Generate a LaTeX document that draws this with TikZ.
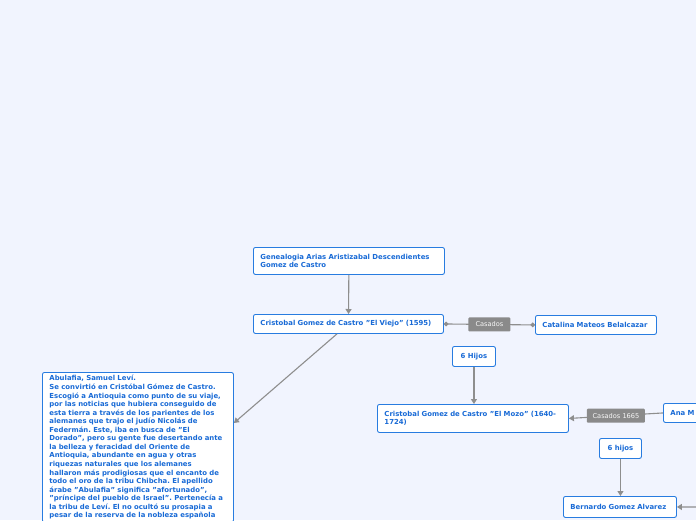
\documentclass[tikz,border=0pt]{standalone}
\usepackage{fontspec}
\setmainfont{DejaVu Sans}
\usetikzlibrary{arrows.meta}
\definecolor{bgblue}{RGB}{241,244,254}
\definecolor{topicblue}{RGB}{40,124,224}
\definecolor{textblue}{RGB}{24,106,214}
\definecolor{linkgray}{RGB}{142,142,142}
\definecolor{labelgray}{RGB}{138,138,138}
\frenchspacing
\hyphenpenalty=10000
\begin{document}
\begin{tikzpicture}[x=1pt,y=-1pt,
    topic/.style={draw=topicblue,fill=white,line width=0.9pt,rounded corners=2pt,
        text=textblue,font=\bfseries\fontsize{6.9}{8.55}\selectfont,
        align=left,anchor=north west,inner xsep=7pt,inner ysep=0pt},
    tag/.style={fill=labelgray,text=white!94!gray,font=\fontsize{6.6}{7}\selectfont,
        rounded corners=1pt,inner sep=0pt,minimum height=14pt},
    link/.style={draw=linkgray,line width=1.1pt,-{Triangle[length=5pt,width=6pt]}},
    pair/.style={draw=linkgray,line width=1.1pt,{Circle[length=4.5pt]}-{Circle[length=4.5pt]}}
]
\useasboundingbox (0,0) rectangle (696,520);
\fill[bgblue] (0,0) rectangle (696,520);

\node[topic,text width=177pt,minimum height=27pt] (title) at (253,247)
    {Genealogia Arias Aristizabal Descendientes\\Gomez de Castro};
\node[topic,text width=176pt,minimum height=19pt] (viejo) at (253,314)
    {Cristobal Gomez de Castro "El Viejo" (1595)};
\node[topic,text width=107pt,minimum height=19pt] (catalina) at (535,315)
    {Catalina Mateos Belalcazar};
\node[topic,text width=29pt,minimum height=20pt,align=center] (hijosA) at (452,346)
    {6 Hijos};
\node[topic,text width=177pt,minimum height=28pt] (mozo) at (377,404)
    {Cristobal Gomez de Castro "El Mozo" (1640-\\1724)};
\node[topic,text width=120pt,minimum height=19pt] (ana) at (663,403)
    {Ana M};
\node[topic,text width=28pt,minimum height=20pt,align=center] (hijosB) at (599,438)
    {6 hijos};
\node[topic,text width=99pt,minimum height=21pt] (bernardo) at (563,496)
    {Bernardo Gomez Alvarez};
\node[topic,text width=177pt,inner ysep=3pt] (abulafia) at (42,372)
    {Abulafia, Samuel Leví.\\
     Se convirtió en Cristóbal Gómez de Castro.\\
     Escogió a Antioquia como punto de su viaje,\\
     por las noticias que hubiera conseguido de\\
     esta tierra a través de los parientes de los\\
     alemanes que trajo el judío Nicolás de\\
     Federmán. Este, iba en busca de "El\\
     Dorado", pero su gente fue desertando ante\\
     la belleza y feracidad del Oriente de\\
     Antioquia, abundante en agua y otras\\
     riquezas naturales que los alemanes\\
     hallaron más prodigiosas que el encanto de\\
     todo el oro de la tribu Chibcha. El apellido\\
     árabe "Abulafia" significa "afortunado",\\
     "príncipe del pueblo de Israel". Pertenecía a\\
     la tribu de Leví. El no ocultó su prosapia a\\
     pesar de la reserva de la nobleza española};
\coordinate (offright) at (700,507);

\draw[link] (title) -- (viejo);
\draw[link] (viejo) -- ([yshift=-51pt]abulafia.north east);
\draw[pair] (viejo.east) -- (catalina.west)
    node[tag,midway,minimum width=42pt] {Casados};
\draw[link] (hijosA) -- (hijosA |- mozo.north);
\draw[link] (ana.west) -- (mozo.east)
    node[tag,midway,minimum width=58pt] {Casados 1665};
\draw[link] (hijosB) -- (hijosB |- bernardo.north);
\draw[link] (offright) -- (bernardo.east);
\end{tikzpicture}
\end{document}
